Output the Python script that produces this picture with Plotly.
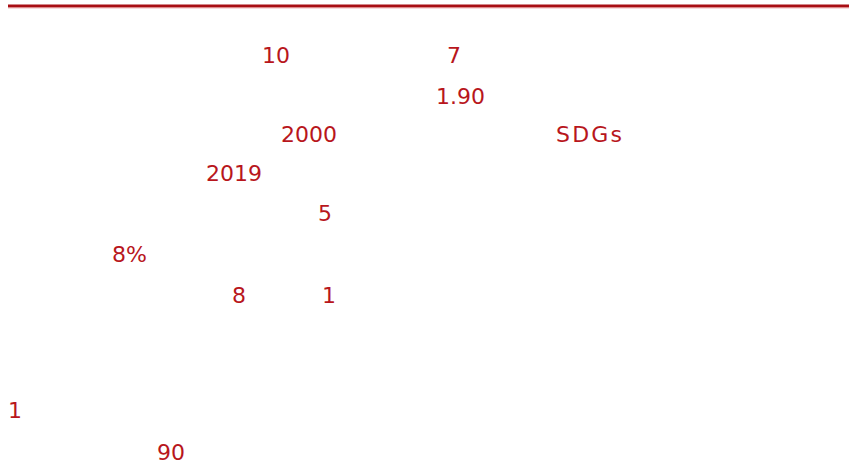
import plotly.graph_objects as go

# Visible text fragments (the page's other glyphs render blank)
fragments = ["10", "7", "1.90", "2000", "S\u200aD\u200aG\u200as", "2019", "5", "8%", "8", "1", "1", "90"]
frag_x = [262, 447, 436, 281, 556, 206, 318, 112, 232, 322, 8, 157]
frag_y = [55, 55, 96, 134, 134, 173, 213, 254, 295, 295, 410, 452]

TEXT_COLOR = "#b8161c"
RULE_COLOR = "#a80f14"

fig = go.Figure()
fig.add_trace(go.Scatter(x=[0, 855], y=[0, 471], mode="markers",
                         marker=dict(opacity=0), hoverinfo="skip", showlegend=False))

for t, x, y in zip(fragments, frag_x, frag_y):
    fig.add_annotation(x=x, y=y, xref="x", yref="y", text=t, showarrow=False,
                       xanchor="left", yanchor="middle", borderpad=0, borderwidth=0,
                       font=dict(family="DejaVu Sans", size=22, color=TEXT_COLOR))

fig.add_shape(type="line", x0=8, x1=849, y0=6, y1=6, xref="x", yref="y",
              line=dict(color=RULE_COLOR, width=3))
fig.add_shape(type="line", x0=8, x1=849, y0=7.8, y1=7.8, xref="x", yref="y",
              line=dict(color="#e08a8c", width=1))

fig.update_layout(width=855, height=471, margin=dict(l=0, r=0, t=0, b=0),
                  paper_bgcolor="white", plot_bgcolor="white", showlegend=False,
                  hovermode=False,
                  xaxis=dict(range=[0, 855], visible=False, fixedrange=True),
                  yaxis=dict(range=[471, 0], visible=False, fixedrange=True))

fig.write_html("out.html", config={"displayModeBar": False, "staticPlot": True},
               post_script="document.body.style.margin='0';document.body.style.overflow='hidden';")
